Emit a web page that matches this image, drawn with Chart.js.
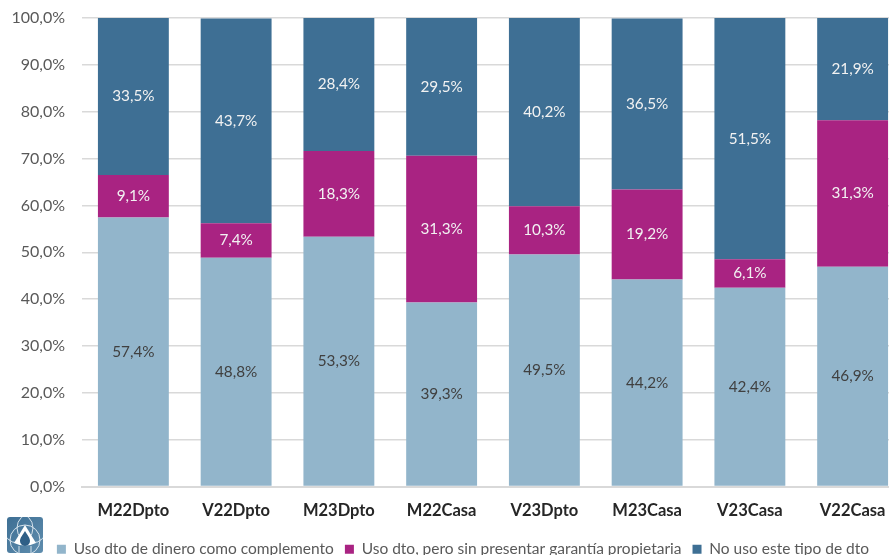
<!DOCTYPE html>
<html>
<head>
<meta charset="utf-8">
<style>
html, body { margin: 0; padding: 0; background: #fff; overflow: hidden; }
#wrap { position: relative; width: 889px; height: 555px; overflow: hidden; }
canvas { display: block; }
#logo { position: absolute; left: 7px; top: 517px; }
</style>
<script src="https://cdn.jsdelivr.net/npm/chart.js@4"></script>
</head>
<body>
<!-- el original esta recortado a la derecha y abajo: el canvas es mas grande que la ventana -->
<div id="wrap">
    <canvas id="grafico" width="904" height="567"></canvas>
    <svg id="logo" width="36" height="36" viewBox="0 0 36 36">
        <defs>
            <linearGradient id="fondo" x1="0" y1="0" x2="1" y2="1">
                <stop offset="0" stop-color="#3E6F94"/>
                <stop offset="1" stop-color="#5F8DAE"/>
            </linearGradient>
            <clipPath id="caja"><rect width="36" height="36" rx="3"/></clipPath>
        </defs>
        <g clip-path="url(#caja)">
            <rect width="36" height="36" fill="url(#fondo)"/>
            <g fill="none" stroke="#D5E2EB" stroke-width="1">
                <circle cx="11" cy="11" r="15"/>
                <circle cx="25" cy="11" r="15"/>
                <circle cx="18" cy="23" r="15"/>
            </g>
            <path d="M18 8 L29 26 Q18 31 7 26 Z" fill="#FFFFFF"/>
            <path d="M18 14 C21 19 23 21 23 24 A5 5 0 0 1 13 24 C13 21 15 19 18 14 Z" fill="#2F5F86"/>
            <path d="M12 29 V36 M24 29 V36" stroke="#D5E2EB" stroke-width="1"/>
        </g>
    </svg>
</div>
<script>
// datos
const categorias = ["M22Dpto", "V22Dpto", "M23Dpto", "M22Casa", "V23Dpto", "M23Casa", "V23Casa", "V22Casa"];
const complemento = [57.4, 48.8, 53.3, 39.3, 49.5, 44.2, 42.4, 46.9];
const sinGarantia = [9.1, 7.4, 18.3, 31.3, 10.3, 19.2, 6.1, 31.3];
const noUso = [33.5, 43.7, 28.4, 29.5, 40.2, 36.5, 51.5, 21.9];

const fuente = "Lato";

function coma(v) {
    return v.toFixed(1).replace(".", ",") + "%";
}

// etiquetas dentro de cada barra
const etiquetas = {
    id: "etiquetas",
    afterDatasetsDraw(chart) {
        const ctx = chart.ctx;
        ctx.save();
        ctx.font = "15.3px " + fuente;
        ctx.textAlign = "center";
        ctx.textBaseline = "middle";
        chart.data.datasets.forEach((ds, i) => {
            chart.getDatasetMeta(i).data.forEach((bar, j) => {
                const p = bar.getProps(["x", "y", "base"], true);
                ctx.fillStyle = i === 0 ? "#404040" : "#F2F2F2";
                ctx.fillText(coma(ds.data[j]), p.x, (p.y + p.base) / 2);
            });
        });
        ctx.restore();
    }
};

// la leyenda no esta centrada en el canvas, se corre un poco a la derecha
const moverLeyenda = {
    id: "moverLeyenda",
    afterLayout(chart) {
        chart.legend.left += 11;
        chart.legend.right += 11;
    }
};

new Chart(document.getElementById("grafico"), {
    type: "bar",
    data: {
        labels: categorias,
        datasets: [
            { label: "Uso dto de dinero como complemento", data: complemento, backgroundColor: "#92B5CB" },
            { label: "Uso dto, pero sin presentar garantía propietaria", data: sinGarantia, backgroundColor: "#A92382" },
            { label: "No uso este tipo de dto", data: noUso, backgroundColor: "#3E6F94" }
        ]
    },
    options: {
        responsive: false,
        animation: false,
        layout: { padding: { left: 0, right: 0, top: 0, bottom: 0 } },
        datasets: { bar: { categoryPercentage: 0.69, barPercentage: 1 } },
        plugins: {
            legend: {
                position: "bottom",
                align: "center",
                labels: {
                    boxWidth: 9, boxHeight: 9, padding: 11,
                    color: "#595959",
                    font: { family: fuente, size: 15.5 }
                }
            },
            tooltip: { enabled: false }
        },
        scales: {
            x: {
                stacked: true,
                grid: { display: false },
                border: { color: "#D9D9D9", width: 2 },
                ticks: { color: "#262626", padding: 6, font: { family: fuente, size: 16.5, weight: "bold" } },
                afterFit(scale) { scale.height = 44; }
            },
            y: {
                stacked: true,
                min: 0,
                max: 100,
                grid: { color: "#D9D9D9", lineWidth: 1.5, drawTicks: false },
                border: { display: false },
                // el padding de los ticks empuja el area hacia abajo, se fija a mano
                afterFit(scale) { scale.width = 82; scale.paddingTop = 18; },
                ticks: {
                    stepSize: 10,
                    padding: 17,
                    color: "#595959",
                    font: { family: fuente, size: 16 },
                    callback: v => coma(v)
                }
            }
        }
    },
    plugins: [etiquetas, moverLeyenda]
});
</script>
</body>
</html>
